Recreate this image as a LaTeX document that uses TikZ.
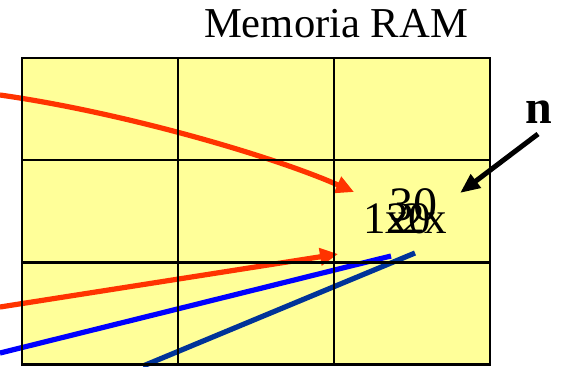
\documentclass[tikz,border=0pt]{standalone}
\usepackage{fontspec}
\setmainfont{Liberation Serif}
\usetikzlibrary{arrows.meta}
\definecolor{ramYellow}{HTML}{FFFF99}
\definecolor{ramRed}{HTML}{FF3300}
\definecolor{ramBlue}{HTML}{0000FF}
\definecolor{ramNavy}{HTML}{003399}

\begin{document}
\begin{tikzpicture}[
  x=0.5pt,
  y=-0.5pt,
  cell/.style={
    fill=ramYellow,
    minimum width=78pt,
    minimum height=51pt,
    inner sep=0pt,
    outer sep=0pt
  },
  grid/.style={draw=black, line width=1.4pt},
  val/.style={inner sep=0pt, anchor=base west, font=\fontsize{22.5}{22.5}\selectfont},
  redline/.style={-{Triangle[length=9pt,width=8.5pt]}, line width=2.6pt, draw=ramRed},
  blueline/.style={line width=2.6pt, draw=ramBlue},
  navyline/.style={line width=2.6pt, draw=ramNavy},
  ptrline/.style={-{Triangle[length=10pt,width=8pt]}, line width=2.5pt, draw=black}
]
\useasboundingbox (0,0) rectangle (562,366);

% memory cells
\foreach \r/\y in {1/109,2/211,3/313.5}
  \foreach \c/\x in {1/100,2/256,3/412}
    \node[cell] (m-\r-\c) at (\x,\y) {};

\node[inner sep=0pt, anchor=base, font=\fontsize{21.3}{21.3}\selectfont] (title) at (336,37) {Memoria RAM};
\node[inner sep=0pt, anchor=base, font=\fontsize{24}{24}\selectfont\bfseries] (n) at (539,123) {n};

% overlapping values in the cell
\node[val] (v1x) at (363,233) {1x};
\node[val] (v20) at (386,233) {20};
\node[val] (v2x) at (402,233) {2x};
\node[val, font=\fontsize{24}{24}\selectfont] (v30) at (389,220) {30};

% free ends
\coordinate (src1) at (0,95);
\coordinate (dst1) at (354,192);
\coordinate (src2) at (0,307);
\coordinate (dst2) at (338,254);
\coordinate (src3) at (0,353);
\coordinate (dst3) at (391,256);
\coordinate (src4) at (143,366);
\coordinate (dst4) at (415,253);
\coordinate (ptr) at (460,193);
\coordinate (nfoot) at (538,134);

\draw[redline] (src1) .. controls (120,112) and (270,155) .. (dst1);
\draw[redline] (src2) -- (dst2);
\draw[blueline] (src3) -- (dst3);
\draw[navyline] (src4) -- (dst4);
\draw[ptrline] (nfoot) -- (ptr);

% grid on top
\foreach \r in {1,2,3}
  \foreach \c in {1,2,3}
    \draw[grid] (m-\r-\c.north west) rectangle (m-\r-\c.south east);
\end{tikzpicture}
\end{document}
